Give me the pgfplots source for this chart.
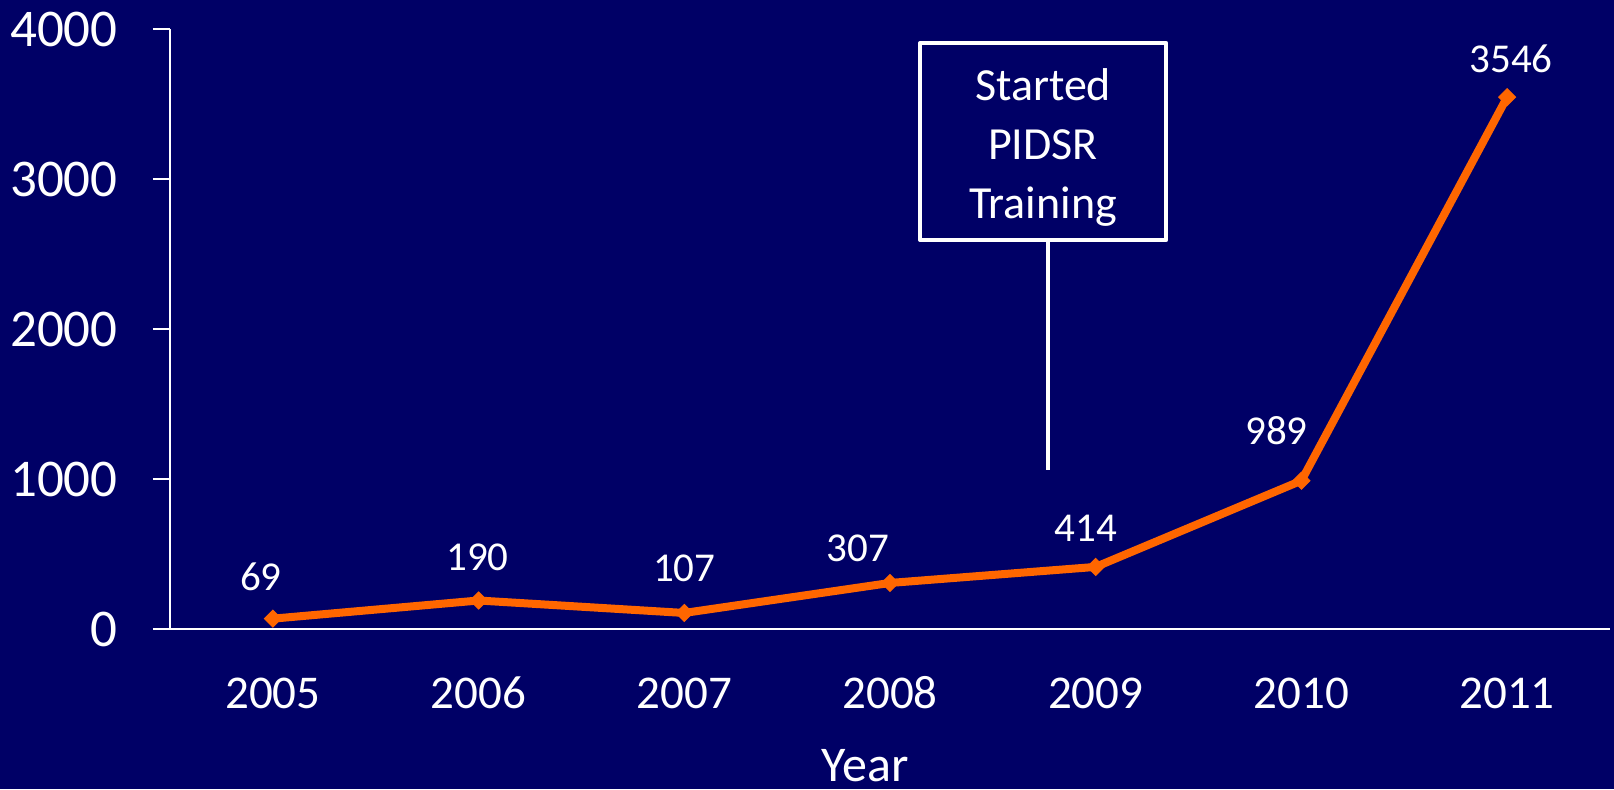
\documentclass[border=0pt]{standalone}
\usepackage{fontspec}
\setmainfont{Carlito}
\usepackage{pgfplots}
\pgfplotsset{compat=1.18}
\definecolor{bg}{RGB}{0,0,102}
\definecolor{ora}{RGB}{255,102,0}
\begin{document}
\begin{tikzpicture}
\fill[bg] (-85pt,-80pt) rectangle (722pt,314.5pt);
\begin{axis}[
  at={(0,0)}, anchor=south west,
  width=720pt, height=300pt, scale only axis,
  xmin=-0.5, xmax=6.5, ymin=0, ymax=4000,
  clip=false,
  axis x line=bottom, axis y line=left,
  axis line style={-, white, line width=1pt},
  xtick={0,1,2,3,4,5,6},
  xticklabels={2005,2006,2007,2008,2009,2010,2011},
  ytick={0,1000,2000,3000,4000},
  tick align=outside, major tick length=8.5pt,
  x tick style={draw=none},
  y tick style={white, line width=1pt},
  /pgf/number format/1000 sep={},
  /pgf/number format/assume math mode=true,
  yticklabel style={font=\fontsize{26.5}{30}\selectfont, text=white, anchor=east, inner sep=0pt, xshift=-17.5pt},
  xticklabel style={font=\fontsize{23.5}{28}\selectfont, text=white, anchor=base, inner sep=0pt, yshift=-31pt},
  xlabel={Year},
  xlabel style={font=\fontsize{25}{30}\selectfont, text=white, at={(axis description cs:0.4826,0)}, anchor=base, inner sep=0pt, yshift=-76pt},
]
\addplot[color=ora, line width=4pt, mark=square*, mark size=3pt,
  mark options={solid, rotate=45, fill=ora, draw=ora, line width=0.5pt},
  point meta=explicit,
  visualization depends on={\thisrow{dx}\as\dx},
  visualization depends on={\thisrow{dy}\as\dy},
  nodes near coords,
  every node near coord/.style={anchor=center, inner sep=0pt, text=white,
    font=\fontsize{20.5}{24}\selectfont, xshift=\dx*0.5pt, yshift=\dy*0.5pt},
] table[x=x, y=y, meta=y] {
x y dx dy
0 69 -12 42
1 190 -1 43
2 107 0 44.5
3 307 -32 35
4 414 -10 38.5
5 989 -25 50
6 3546 4 38.5
};
\draw[white, line width=2pt, line join=round] (axis cs:3.146,2593) rectangle (axis cs:4.342,3907);
\draw[white, line width=2pt] (axis cs:3.768,2593) -- (axis cs:3.768,1060);
\node[text=white, align=center, font=\fontsize{23}{29.5}\selectfont, inner sep=0pt] at (axis cs:3.744,3212) {Started\\PIDSR\\Training};
\end{axis}
\pgfresetboundingbox
\useasboundingbox (-85pt,-80pt) rectangle (722pt,314.5pt);
\end{tikzpicture}
\end{document}
